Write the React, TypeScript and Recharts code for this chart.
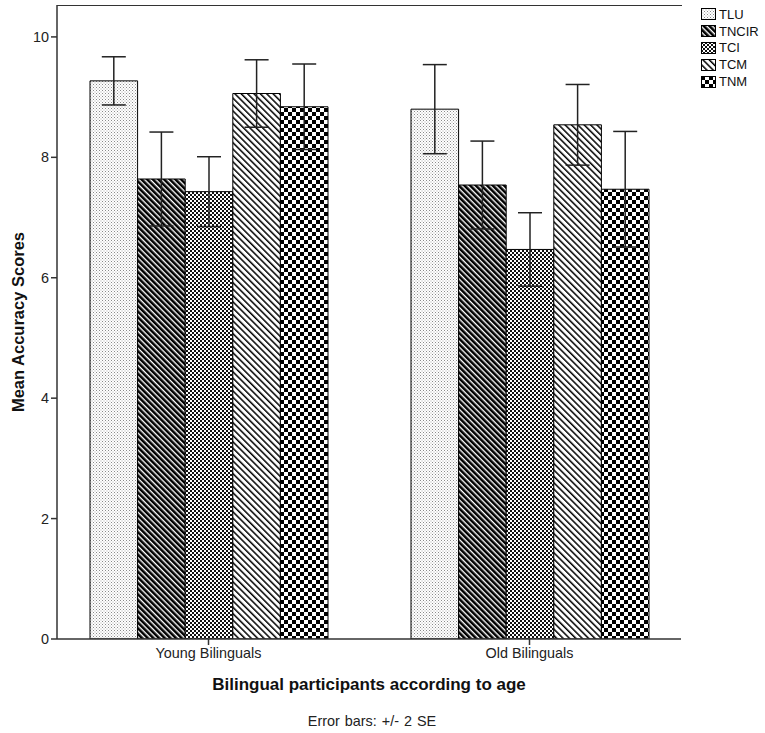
import { BarChart, Bar, XAxis, YAxis, ErrorBar } from 'recharts';

const groups = ['Young Bilinguals', 'Old Bilinguals'];
const seriesKeys = ['TLU', 'TNCIR', 'TCI', 'TCM', 'TNM'];

// means per group (young, old) and the +/- 2 SE half-widths
const tluMeans = [9.27, 8.8];
const tluErr = [0.4, 0.74];
const tncirMeans = [7.64, 7.54];
const tncirErr = [0.78, 0.73];
const tciMeans = [7.43, 6.47];
const tciErr = [0.58, 0.61];
const tcmMeans = [9.06, 8.54];
const tcmErr = [0.56, 0.67];
const tnmMeans = [8.84, 7.47];
const tnmErr = [0.71, 0.96];

const yTicks = [0, 2, 4, 6, 8, 10];
const yMax = 10.53;

const means: Record<string, number[]> = {
  TLU: tluMeans,
  TNCIR: tncirMeans,
  TCI: tciMeans,
  TCM: tcmMeans,
  TNM: tnmMeans,
};
const errs: Record<string, number[]> = {
  TLU: tluErr,
  TNCIR: tncirErr,
  TCI: tciErr,
  TCM: tcmErr,
  TNM: tnmErr,
};

const chartData = groups.map((group, i) => {
  const row: Record<string, string | number> = { group };
  seriesKeys.forEach(k => {
    row[k] = means[k][i];
    row[k + '_err'] = errs[k][i];
  });
  return row;
});

const FONT = '"Liberation Sans", Arial, sans-serif';

function Patterns() {
  return (
    <defs>
      <pattern id="pat-TLU" width="3" height="3" patternUnits="userSpaceOnUse">
        <rect width="3" height="3" fill="#fff" />
        <rect x="0" y="0" width="1" height="1" fill="#8a8a8a" />
        <rect x="1.5" y="1.5" width="1" height="1" fill="#a8a8a8" />
      </pattern>
      <pattern id="pat-TNCIR" width="4" height="4" patternUnits="userSpaceOnUse" patternTransform="rotate(-45)">
        <rect width="4" height="4" fill="#fff" />
        <rect x="0" y="0" width="2.6" height="4" fill="#000" />
      </pattern>
      <pattern id="pat-TCI" width="4" height="4" patternUnits="userSpaceOnUse">
        <rect width="4" height="4" fill="#fff" />
        <rect x="0" y="0" width="2" height="2" fill="#111" />
        <rect x="2" y="2" width="2" height="2" fill="#111" />
      </pattern>
      <pattern id="pat-TCM" width="4.5" height="4.5" patternUnits="userSpaceOnUse" patternTransform="rotate(-45)">
        <rect width="4.5" height="4.5" fill="#fff" />
        <rect x="0" y="0" width="1.5" height="4.5" fill="#000" />
      </pattern>
      <pattern id="pat-TNM" width="8" height="8" patternUnits="userSpaceOnUse">
        <rect width="8" height="8" fill="#fff" />
        <rect x="0" y="0" width="4" height="4" fill="#000" />
        <rect x="4" y="4" width="4" height="4" fill="#000" />
      </pattern>
    </defs>
  );
}

function LegendBox() {
  return (
    <div style={{ position: 'absolute', left: 701, top: 6, width: 64, fontFamily: FONT, fontSize: 13, color: '#111', whiteSpace: 'nowrap' }}>
      {seriesKeys.map(k => (
        <div key={k} style={{ display: 'flex', alignItems: 'center', height: 16.8 }}>
          <svg width={16} height={12} style={{ marginRight: 2, flexShrink: 0 }}>
            <rect x={0.5} y={0.5} width={14} height={11} fill={`url(#pat-${k})`} stroke="#000" strokeWidth={1} />
          </svg>
          <span>{k}</span>
        </div>
      ))}
    </div>
  );
}

export default function App() {
  return (
    <div style={{ position: 'absolute', left: 0, top: 0, width: 765, height: 733, background: '#fff', fontFamily: FONT, overflow: 'hidden' }}>
      <BarChart
        width={765}
        height={733}
        data={chartData}
        margin={{ top: 5, right: 84, left: 17, bottom: 64 }}
        barGap={0}
        barSize={47.6}
      >
        <Patterns />
        <XAxis
          dataKey="group"
          padding={{ left: -9, right: -9 }}
          height={30}
          tickSize={6}
          tickMargin={3}
          tick={{ fontSize: 14.4, fill: '#222' }}
          axisLine={{ stroke: '#333', strokeWidth: 1.5 }}
          tickLine={{ stroke: '#333', strokeWidth: 1.5 }}
        />
        <YAxis
          domain={[0, yMax]}
          ticks={yTicks}
          width={40}
          tickSize={6}
          tickMargin={2}
          tick={{ fontSize: 14.4, fill: '#222' }}
          axisLine={{ stroke: '#333', strokeWidth: 1.5 }}
          tickLine={{ stroke: '#333', strokeWidth: 1.5 }}
          allowDataOverflow
        />
        <YAxis
          yAxisId="right"
          orientation="right"
          domain={[0, yMax]}
          width={0}
          tick={false}
          tickLine={false}
          axisLine={{ stroke: '#333', strokeWidth: 1.5 }}
        />
        {seriesKeys.map(k => (
          <Bar key={k} dataKey={k} fill={`url(#pat-${k})`} stroke="#000" strokeWidth={1} isAnimationActive={false}>
            <ErrorBar dataKey={k + '_err'} width={12} stroke="#222" strokeWidth={1.5} direction="y" isAnimationActive={false} />
          </Bar>
        ))}
      </BarChart>
      {/* top edge of the plot frame */}
      <div style={{ position: 'absolute', left: 56.5, top: 4.5, width: 625, height: 1.5, background: '#333' }} />
      <LegendBox />
      <div
        style={{
          position: 'absolute',
          left: 18 - 120,
          top: 322 - 11,
          width: 240,
          height: 22,
          lineHeight: '22px',
          textAlign: 'center',
          transform: 'rotate(-90deg)',
          fontWeight: 'bold',
          fontSize: 16.5,
          color: '#111',
          whiteSpace: 'nowrap',
        }}
      >
        Mean Accuracy Scores
      </div>
      <div style={{ position: 'absolute', left: 69, top: 674, width: 600, height: 22, lineHeight: '22px', textAlign: 'center', fontWeight: 'bold', fontSize: 17, color: '#111' }}>
        Bilingual participants according to age
      </div>
      <div style={{ position: 'absolute', left: 172, top: 711, width: 400, height: 20, lineHeight: '20px', textAlign: 'center', fontSize: 14.4, color: '#222', wordSpacing: 1 }}>
        Error bars: +/- 2 SE
      </div>
    </div>
  );
}
